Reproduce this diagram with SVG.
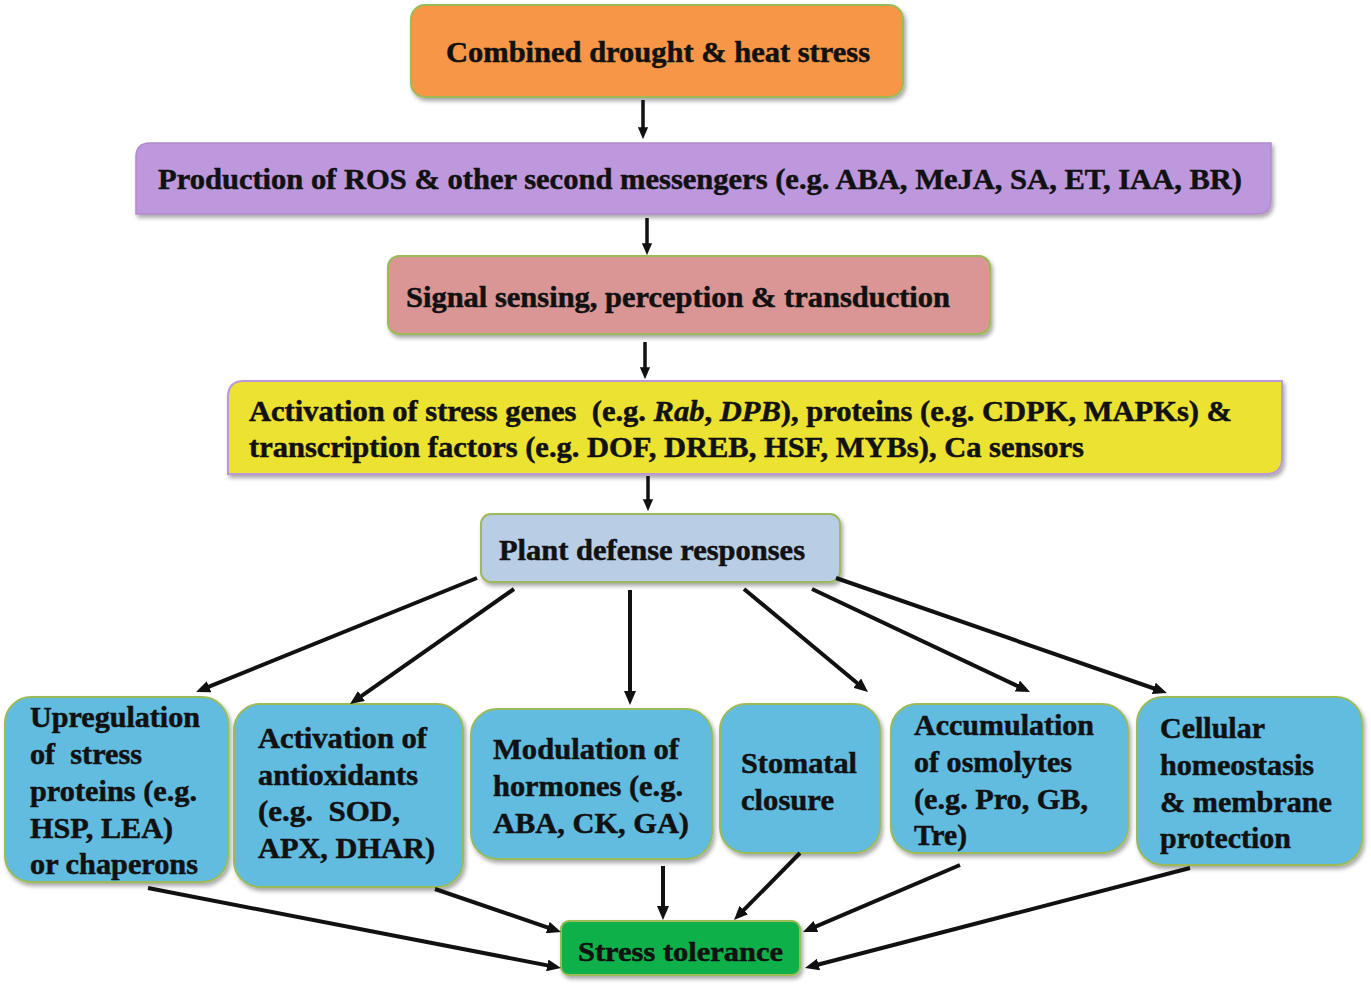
<svg xmlns="http://www.w3.org/2000/svg" width="1371" height="984" viewBox="0 0 1371 984">
<defs>
<filter id="sh" x="-10%" y="-10%" width="120%" height="130%">
<feDropShadow dx="2" dy="3" stdDeviation="2" flood-color="#000" flood-opacity="0.35"/>
</filter>
<marker id="ah" viewBox="0 0 14 12" markerWidth="14" markerHeight="12" refX="8" refY="6" orient="auto" markerUnits="userSpaceOnUse">
<path d="M0,0 L14,6 L0,12 z" fill="#111"/>
</marker>
<marker id="ahs" viewBox="0 0 14 12" markerWidth="12" markerHeight="11" refX="8" refY="6" orient="auto" markerUnits="userSpaceOnUse">
<path d="M0,0 L14,6 L0,12 z" fill="#111"/>
</marker>
</defs>
<style>
text{font-family:"Liberation Serif","Times New Roman",serif;font-weight:bold;fill:#111;stroke:#111;stroke-width:0.5;}
.big{font-size:29px;}
.sm{font-size:29px;}
.box{stroke:#9BBB59;stroke-width:2;filter:url(#sh);}
.blue{fill:#62BCE0;}
.c line{stroke:#111;stroke-width:4;marker-end:url(#ah);}
.c line.t{stroke-width:3.5;marker-end:url(#ahs);}
</style>
<rect width="1371" height="984" fill="#fff"/>

<g id="n1">
<rect class="box" x="411" y="5" width="492" height="92" rx="14" fill="#F79646"/>
<text class="big" x="446" y="62" textLength="424" lengthAdjust="spacingAndGlyphs">Combined drought &amp; heat stress</text>
</g>

<g id="n2">
<path d="M150,143 L1271,143 L1271,200 Q1271,214 1257,214 L136,214 L136,157 Q136,143 150,143 Z" fill="#BD98DC" stroke="#B08BD0" stroke-width="1.5" filter="url(#sh)"/>
<text class="big" x="158" y="189" textLength="1084" lengthAdjust="spacingAndGlyphs">Production of ROS &amp; other second messengers (e.g. ABA, MeJA, SA, ET, IAA, BR)</text>
</g>

<g id="n3">
<rect class="box" x="388" y="256" width="602" height="78" rx="11" fill="#D99694"/>
<text class="big" x="406" y="307" textLength="544" lengthAdjust="spacingAndGlyphs">Signal sensing, perception &amp; transduction</text>
</g>

<g id="n4">
<path d="M244,381 L1282,381 L1282,458 Q1282,474 1266,474 L228,474 L228,397 Q228,381 244,381 Z" fill="#ECE232" stroke="#B99AD6" stroke-width="2" filter="url(#sh)"/>
<text class="big" x="249" y="421" textLength="983" lengthAdjust="spacingAndGlyphs" xml:space="preserve">Activation of stress genes  (e.g. <tspan font-style="italic">Rab</tspan>, <tspan font-style="italic">DPB</tspan>), proteins (e.g. CDPK, MAPKs) &amp;</text>
<text class="big" x="249" y="457" textLength="835" lengthAdjust="spacingAndGlyphs">transcription factors (e.g. DOF, DREB, HSF, MYBs), Ca sensors</text>
</g>

<g id="n5">
<rect class="box" x="481" y="514" width="359" height="68" rx="10" fill="#B9CDE5"/>
<text class="big" x="499" y="560" textLength="306" lengthAdjust="spacingAndGlyphs">Plant defense responses</text>
</g>

<g id="b1">
<rect class="box blue" x="5" y="697" width="223" height="185" rx="26"/>
<text class="sm" x="30" y="727" textLength="170" lengthAdjust="spacingAndGlyphs">Upregulation</text>
<text class="sm" x="30" y="764" textLength="112" lengthAdjust="spacingAndGlyphs" xml:space="preserve">of  stress</text>
<text class="sm" x="30" y="801" textLength="167" lengthAdjust="spacingAndGlyphs">proteins (e.g.</text>
<text class="sm" x="30" y="838" textLength="143" lengthAdjust="spacingAndGlyphs">HSP, LEA)</text>
<text class="sm" x="30" y="874" textLength="168" lengthAdjust="spacingAndGlyphs">or chaperons</text>
</g>

<g id="b2">
<rect class="box blue" x="234" y="704" width="229" height="183" rx="26"/>
<text class="sm" x="258" y="748" textLength="169" lengthAdjust="spacingAndGlyphs">Activation of</text>
<text class="sm" x="258" y="785" textLength="160" lengthAdjust="spacingAndGlyphs">antioxidants</text>
<text class="sm" x="258" y="821" textLength="142" lengthAdjust="spacingAndGlyphs" xml:space="preserve">(e.g.  SOD,</text>
<text class="sm" x="258" y="858" textLength="177" lengthAdjust="spacingAndGlyphs">APX, DHAR)</text>
</g>

<g id="b3">
<rect class="box blue" x="471" y="709" width="241" height="150" rx="26"/>
<text class="sm" x="493" y="759" textLength="186" lengthAdjust="spacingAndGlyphs">Modulation of</text>
<text class="sm" x="493" y="796" textLength="190" lengthAdjust="spacingAndGlyphs">hormones (e.g.</text>
<text class="sm" x="493" y="833" textLength="196" lengthAdjust="spacingAndGlyphs">ABA, CK, GA)</text>
</g>

<g id="b4">
<rect class="box blue" x="720" y="704" width="160" height="149" rx="26"/>
<text class="sm" x="741" y="773" textLength="116" lengthAdjust="spacingAndGlyphs">Stomatal</text>
<text class="sm" x="741" y="810" textLength="93" lengthAdjust="spacingAndGlyphs">closure</text>
</g>

<g id="b5">
<rect class="box blue" x="891" y="704" width="237" height="149" rx="26"/>
<text class="sm" x="914" y="735" textLength="180" lengthAdjust="spacingAndGlyphs">Accumulation</text>
<text class="sm" x="914" y="772" textLength="158" lengthAdjust="spacingAndGlyphs">of osmolytes</text>
<text class="sm" x="914" y="809" textLength="174" lengthAdjust="spacingAndGlyphs">(e.g. Pro, GB,</text>
<text class="sm" x="914" y="845" textLength="53" lengthAdjust="spacingAndGlyphs">Tre)</text>
</g>

<g id="b6">
<rect class="box blue" x="1137" y="697" width="225" height="168" rx="26"/>
<text class="sm" x="1160" y="738" textLength="105" lengthAdjust="spacingAndGlyphs">Cellular</text>
<text class="sm" x="1160" y="775" textLength="154" lengthAdjust="spacingAndGlyphs">homeostasis</text>
<text class="sm" x="1160" y="812" textLength="172" lengthAdjust="spacingAndGlyphs">&amp; membrane</text>
<text class="sm" x="1160" y="848" textLength="131" lengthAdjust="spacingAndGlyphs">protection</text>
</g>

<g id="n6">
<rect class="box" x="561" y="921" width="239" height="54" rx="8" fill="#10B04A"/>
<text x="578" y="961" font-size="28" textLength="205" lengthAdjust="spacingAndGlyphs">Stress tolerance</text>
</g>

<g id="connectors" class="c">
<line class="t" x1="643" y1="100" x2="643" y2="134"/>
<line class="t" x1="647" y1="218" x2="647" y2="250"/>
<line class="t" x1="645" y1="342" x2="645" y2="374"/>
<line class="t" x1="648" y1="476" x2="648" y2="506"/>
<line x1="477" y1="578" x2="201.6" y2="689.7"/>
<line x1="514" y1="589" x2="354.9" y2="700.6"/>
<line x1="630" y1="590" x2="630" y2="699"/>
<line x1="744" y1="589" x2="863.4" y2="688.2"/>
<line x1="812" y1="589" x2="1024.6" y2="689.4"/>
<line x1="836" y1="578" x2="1161.3" y2="691"/>
<line x1="148" y1="888" x2="555.1" y2="966.9"/>
<line x1="435" y1="889" x2="555.3" y2="930.1"/>
<line x1="663" y1="866" x2="663" y2="914"/>
<line x1="800" y1="853" x2="738.2" y2="915.7"/>
<line x1="960" y1="865" x2="808.5" y2="929.6"/>
<line x1="1190" y1="868" x2="810.8" y2="966.5"/>
</g>
</svg>
